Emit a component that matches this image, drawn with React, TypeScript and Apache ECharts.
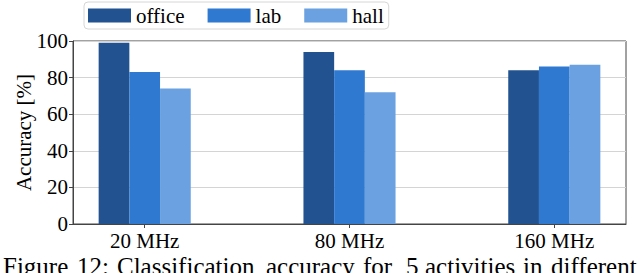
import React, { useEffect, useRef } from "react";
import * as echarts from "echarts";

const categories = ["20 MHz", "80 MHz", "160 MHz"];
const seriesNames = ["office", "lab", "hall"];
const office = [99, 94, 84];
const lab = [83, 84, 86];
const hall = [74, 72, 87];
const captionWords = ["Figure", "12:", "Classification", "accuracy", "for", "5", "activities", "in", "different"];
const captionX = [3, 77, 117, 266, 363, 406, 425, 523, 551];

const colors = ["#22528f", "#2f79d1", "#6ba1e0"];
const FONT = "Liberation Serif";

export default function App() {
  const ref = useRef<HTMLDivElement>(null);
  useEffect(() => {
    if (!ref.current) return;
    const chart = echarts.init(ref.current, null, { renderer: "svg" });
    const values = [office, lab, hall];
    chart.setOption({
      animation: false,
      backgroundColor: "#ffffff",
      textStyle: { fontFamily: FONT },
      legend: {
        left: 84,
        top: 2,
        padding: [3, 5, 3, 4],
        itemWidth: 43,
        itemHeight: 14,
        itemGap: 23,
        borderColor: "#d6d6d6",
        borderWidth: 1,
        borderRadius: 4,
        icon: "rect",
        textStyle: { fontFamily: FONT, fontSize: 21, color: "#000" },
        data: seriesNames,
      },
      grid: [
        // grid holding the bars: category centers land where the reference's groups are
        {
          left: 42.3,
          top: 41,
          width: 614.4,
          height: 183,
          show: false,
          containLabel: false,
          outerBoundsMode: "none",
        },
        // visible frame / y axis grid
        {
          left: 73,
          top: 41,
          width: 553,
          height: 183,
          show: true,
          borderColor: "#444",
          borderWidth: 1,
          containLabel: false,
          outerBoundsMode: "none",
        },
      ],
      xAxis: [
        {
          gridIndex: 0,
          type: "category",
          data: categories,
          boundaryGap: true,
          axisLine: { show: false },
          axisTick: {
            show: true,
            alignWithLabel: true,
            length: 4,
            lineStyle: { color: "#444" },
          },
          axisLabel: {
            fontFamily: FONT,
            fontSize: 21,
            color: "#000",
            margin: 6,
          },
          splitLine: { show: false },
        },
        {
          gridIndex: 1,
          type: "value",
          min: 0,
          max: 1,
          axisLine: { show: true, lineStyle: { color: "#444", width: 1 } },
          axisTick: { show: false },
          axisLabel: { show: false },
          splitLine: { show: false },
        },
      ],
      yAxis: [
        {
          gridIndex: 0,
          type: "value",
          min: 0,
          max: 100,
          show: false,
        },
        {
          gridIndex: 1,
          type: "value",
          min: 0,
          max: 100,
          interval: 20,
          name: "Accuracy [%]",
          nameLocation: "middle",
          nameGap: 39,
          nameMoveOverlap: false,
          nameTextStyle: { fontFamily: FONT, fontSize: 21, color: "#000" },
          axisLine: { show: true, lineStyle: { color: "#444", width: 1 } },
          axisTick: { show: true, length: 4, lineStyle: { color: "#444" } },
          axisLabel: {
            fontFamily: FONT,
            fontSize: 21,
            color: "#000",
            margin: 5,
          },
          splitLine: { show: true, lineStyle: { color: "#d4d4d4", width: 1 } },
        },
      ],
      series: seriesNames.map((name, i) => ({
        name,
        type: "bar",
        xAxisIndex: 0,
        yAxisIndex: 0,
        barWidth: 30.7,
        barGap: "0%",
        z: 3,
        itemStyle: { color: colors[i] },
        data: values[i],
      })),
      graphic: captionWords.map((w, i) => ({
        type: "text",
        x: captionX[i],
        y: 254,
        style: {
          text: w,
          fontFamily: FONT,
          fontSize: 25,
          fill: "#000",
          verticalAlign: "top",
        },
      })),
    });
    return () => chart.dispose();
  }, []);
  return (
    <div
      ref={ref}
      style={{ position: "absolute", left: 0, top: 0, width: 640, height: 273 }}
    />
  );
}
